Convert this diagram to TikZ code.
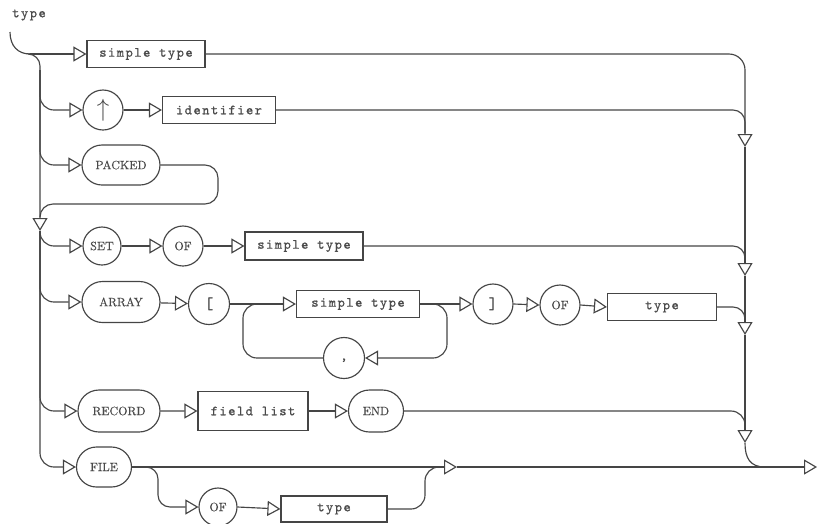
\documentclass[tikz,border=0pt]{standalone}
\usepackage{fontspec}
\usetikzlibrary{arrows.meta,shapes.misc}
\newfontfamily\labfont{lmmono10-regular}[Extension=.otf,LetterSpace=10,FakeBold=0.6]
\newfontfamily\kwfont{lmroman10-regular}[Extension=.otf,FakeBold=0.4]
\definecolor{ink}{HTML}{454545}
\definecolor{txt}{HTML}{4A4A4A}
\tikzset{
  line/.style={draw=ink, line width=1.15pt},
  ar/.style={-{Triangle[open,length=13pt,width=15pt]}},
  tbox/.style={rectangle, draw=ink, line width=1.15pt, minimum height=27pt, inner sep=0pt, text=txt, font=\fontsize{14}{14}\labfont},
  circ/.style={circle, draw=ink, line width=1.15pt, minimum size=40pt, inner sep=0pt, text=txt, font=\fontsize{12}{12}\kwfont},
  pill/.style={rounded rectangle, draw=ink, line width=1.15pt, minimum height=40pt, inner sep=0pt, text=txt, font=\fontsize{12}{12}\kwfont},
  lab/.style={inner sep=0pt, text=txt, font=\fontsize{14}{14}\labfont},
}
\begin{document}
\begin{tikzpicture}[x=1pt,y=-1pt]
\useasboundingbox (0,0) rectangle (818,523);
% nodes
\node[lab] (title) at (29,15) {type};
\node[tbox, minimum width=118pt] (st1) at (146,54) {simple type};
\node[circ] (up) at (103,110) {\fontsize{24}{24}\selectfont$\uparrow$};
\node[tbox, minimum width=113pt] (id) at (219,110) {identifier};
\node[pill, minimum width=78pt] (packed) at (121,165) {PACKED};
\node[circ, minimum size=38pt] (set) at (102,246) {SET};
\node[circ] (of1) at (183,246) {OF};
\node[tbox, minimum width=118pt, minimum height=28pt] (st2) at (304,246) {simple type};
\node[pill, minimum width=78pt, minimum height=41pt] (array) at (121,302) {ARRAY};
\node[circ, minimum size=41pt] (lb) at (209,304) {\fontsize{17}{17}\selectfont\ttfamily\bfseries [};
\node[tbox, minimum width=123pt] (st3) at (358,304) {simple type};
\node[circ, minimum size=41pt] (comma) at (344,358) {\raisebox{-6pt}{\fontsize{14}{14}\labfont ,}};
\node[circ] (rb) at (493,304) {\fontsize{17}{17}\selectfont\ttfamily\bfseries ]};
\node[circ] (of2) at (560,305) {OF};
\node[tbox, minimum width=109pt] (ty1) at (662,307) {type};
\node[pill, minimum width=82pt, minimum height=42pt] (record) at (119,411) {RECORD};
\node[tbox, minimum width=110pt, minimum height=39pt] (fl) at (253,411) {field list};
\node[pill, minimum width=55pt, minimum height=42pt] (end) at (376,411) {END};
\node[pill, minimum width=55pt, minimum height=40pt] (file) at (104,467) {FILE};
\node[circ, minimum size=38pt] (of3) at (218,507) {OF};
\node[tbox, minimum width=106pt, minimum height=26pt] (ty2) at (334,509) {type};
% coordinates
\coordinate (start) at (10,32);
\coordinate (j0) at (30,54);
\coordinate (tk) at (40,70);
\coordinate (tA) at (40,217);
\coordinate (tB) at (40,231);
\coordinate (c1b) at (745,133);
\coordinate (c1) at (745,147);
\coordinate (c2b) at (745,262);
\coordinate (c2) at (745,276);
\coordinate (c3b) at (745,321);
\coordinate (c3) at (745,335);
\coordinate (c4b) at (745,429);
\coordinate (c4) at (745,443);
\coordinate (ex1) at (765,467);
\coordinate (fab) at (443,467);
\coordinate (fa) at (457,467);
\coordinate (exit) at (817,467);
\coordinate (lj) at (262,304);
% entry and trunk
\draw[line] (start) .. controls (10,46) and (18,54) .. (j0);
\draw[line,ar] (j0) -- (st1.west);
\draw[line,ar,rounded corners=12pt] (j0) -- (40,54) -- (tB);
\draw[line,ar,rounded corners=14pt] (tk) |- (up.west);
\draw[line,ar,rounded corners=14pt] (tk) |- (packed.west);
\draw[line,rounded corners=13pt] (packed.east) -- (218,165) -- (218,204) -- (40,204) -- (tA);
\draw[line,ar,rounded corners=14pt] (tB) |- (set.west);
\draw[line,ar,rounded corners=14pt] (tB) |- (array.west);
\draw[line,ar,rounded corners=14pt] (tB) |- (record.west);
\draw[line,ar,rounded corners=14pt] (tB) |- (file.west);
% rows
\draw[line,ar] (up) -- (id);
\draw[line,ar] (set) -- (of1);
\draw[line,ar] (of1) -- (st2);
\draw[line,ar] (array) -- (lb);
\draw[line,ar] (lb) -- (st3);
\draw[line,ar] (st3) -- (rb);
\draw[line,ar] (rb.east) -- (of2.west);
\draw[line,ar] (of2.east) -- (ty1.west);
\draw[line,rounded corners=14pt] (comma.west) -- (243,358) -- (243,304) -- (lj);
\draw[line,ar,rounded corners=14pt] (st3.east) -- (447,304) -- (447,358) -- (comma.east);
\draw[line,ar] (record) -- (fl);
\draw[line,ar] (fl) -- (end);
% FILE row
\draw[line,ar] (file.east) -- (fa);
\draw[line,ar,rounded corners=12pt] (file.east) -- (158,467) -- (158,507) -- (of3.west);
\draw[line,ar] (of3.east) -- (ty2.west);
\draw[line,rounded corners=14pt] (ty2.east) -- (425,509) -- (425,467) -- (fab);
\draw[line,ar] (fa) -- (exit);
% right collector
\draw[line,ar,rounded corners=16pt] (st1.east) -- (745,54) -- (c1);
\draw[line,rounded corners=12pt] (id.east) -- (745,110) -- (c1b);
\draw[line,ar] (c1) -- (c2);
\draw[line,rounded corners=12pt] (st2.east) -- (745,246) -- (c2b);
\draw[line,ar] (c2) -- (c3);
\draw[line,rounded corners=12pt] (ty1.east) -- (745,307) -- (c3b);
\draw[line,ar] (c3) -- (c4);
\draw[line,rounded corners=14pt] (end.east) -- (745,411) -- (c4b);
\draw[line] (c4) .. controls (745,458) and (750,467) .. (ex1);
\end{tikzpicture}
\end{document}
